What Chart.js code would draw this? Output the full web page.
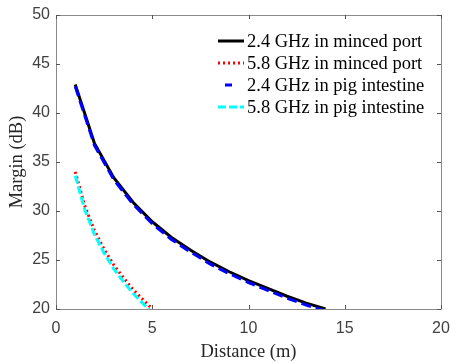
<!DOCTYPE html>
<html>
<head>
<meta charset="utf-8">
<script src="https://cdn.jsdelivr.net/npm/chart.js@4/dist/chart.umd.min.js"></script>
<style>
html,body{margin:0;padding:0;background:#fff;}
#wrap{width:450px;height:363px;position:relative;}
</style>
</head>
<body>
<div id="wrap"><canvas id="c" width="450" height="363"></canvas></div>
<script>
// ---- data ----
const labels = ["2.4 GHz in minced port", "5.8 GHz in minced port", "2.4 GHz in pig intestine", "5.8 GHz in pig intestine"];
const dist24 = [1, 2, 3, 4, 5, 6, 7, 8, 9, 10, 11, 12, 13, 14];
const minced24 = [42.9, 36.9, 33.4, 30.9, 28.9, 27.3, 26.0, 24.8, 23.8, 22.9, 22.1, 21.3, 20.6, 20.0];
const pig24 = [42.7, 36.7, 33.2, 30.7, 28.7, 27.1, 25.8, 24.6, 23.6, 22.7, 21.9, 21.1, 20.4, 19.8];
const dist58 = [1, 1.5, 2, 2.5, 3, 3.5, 4, 4.5, 5];
const minced58 = [34.0, 30.5, 28.0, 26.1, 24.5, 23.2, 22.0, 21.0, 20.0];
const pig58 = [33.6, 30.1, 27.6, 25.7, 24.1, 22.8, 21.6, 20.6, 19.6];
const xTicks = [0, 5, 10, 15, 20];
const yTicks = [20, 25, 30, 35, 40, 45, 50];

const pts = (xs, ys) => xs.map((x, i) => ({x: x, y: ys[i]}));

const styles = [
  {color: '#000000', dash: [], width: 3, order: 4},
  {color: '#ff0000', dash: [2, 3], width: 3, order: 3},
  {color: '#0000ff', dash: [10, 5], width: 3, order: 2},
  {color: '#00ffff', dash: [8, 3], width: 3, order: 1}
];
const series = [pts(dist24, minced24), pts(dist58, minced58), pts(dist24, pig24), pts(dist58, pig58)];

const datasets = series.map((d, i) => ({
  label: labels[i],
  data: d,
  borderColor: styles[i].color,
  backgroundColor: styles[i].color,
  borderWidth: styles[i].width,
  borderDash: styles[i].dash,
  pointRadius: 0,
  tension: 0,
  fill: false,
  order: styles[i].order
}));

const boxPlugin = {
  id: 'box',
  afterDatasetsDraw(chart) {
    const {ctx, chartArea: a, scales} = chart;
    ctx.save();
    ctx.strokeStyle = '#8a8a8a';
    ctx.lineWidth = 1;
    ctx.beginPath();
    ctx.rect(Math.round(a.left) + 0.5, Math.round(a.top) + 0.5, Math.round(a.right - a.left), Math.round(a.bottom - a.top));
    ctx.stroke();
    const tl = 4;
    ctx.strokeStyle = '#555';
    ctx.beginPath();
    xTicks.forEach(v => {
      const px = Math.round(scales.x.getPixelForValue(v)) + 0.5;
      ctx.moveTo(px, a.bottom); ctx.lineTo(px, a.bottom - tl);
      ctx.moveTo(px, a.top); ctx.lineTo(px, a.top + tl);
    });
    yTicks.forEach(v => {
      const py = Math.round(scales.y.getPixelForValue(v)) + 0.5;
      ctx.moveTo(a.left, py); ctx.lineTo(a.left + tl, py);
      ctx.moveTo(a.right, py); ctx.lineTo(a.right - tl, py);
    });
    ctx.stroke();
    // legend
    const x0 = 218, x1 = 244, tx = 247, y0 = 41, dy = 22;
    ctx.font = '18.5px "Liberation Serif", "Times New Roman", serif';
    ctx.textBaseline = 'middle';
    ctx.textAlign = 'left';
    chart.data.datasets.forEach((ds, i) => {
      const y = y0 + i * dy;
      ctx.strokeStyle = ds.borderColor;
      ctx.lineWidth = ds.borderWidth;
      ctx.setLineDash(ds.borderDash);
      ctx.beginPath();
      if (i === 2) { ctx.setLineDash([]); ctx.moveTo(225, y); ctx.lineTo(232, y); }
      else { ctx.moveTo(x0, y); ctx.lineTo(x1, y); }
      ctx.stroke();
      ctx.setLineDash([]);
      ctx.fillStyle = '#000';
      ctx.fillText(ds.label, tx, y + 1);
    });
    ctx.restore();
  }
};

new Chart(document.getElementById('c'), {
  type: 'line',
  data: {datasets: datasets},
  options: {
    responsive: false,
    animation: false,
    layout: {padding: {top: 15, right: 9, left: 0, bottom: 0}},
    plugins: {legend: {display: false}, tooltip: {enabled: false}},
    scales: {
      x: {
        type: 'linear', min: 0, max: 20,
        afterBuildTicks: s => { s.ticks = xTicks.map(v => ({value: v})); },
        afterFit: s => { s.height = 54; s.paddingRight = 0; s.paddingLeft = 0; },
        grid: {display: false, drawTicks: false},
        border: {display: false},
        ticks: {color: '#404040', font: {family: '"Liberation Sans", Arial, sans-serif', size: 16}, padding: 10, maxRotation: 0},
        title: {display: true, text: 'Distance (m)', color: '#262626', font: {family: '"Liberation Serif", "Times New Roman", serif', size: 18.5}, padding: {top: 0, bottom: 0}}
      },
      y: {
        type: 'linear', min: 20, max: 50,
        afterBuildTicks: s => { s.ticks = yTicks.map(v => ({value: v})); },
        afterFit: s => { s.width = 56; s.paddingTop = 0; s.paddingBottom = 0; },
        grid: {display: false, drawTicks: false},
        border: {display: false},
        ticks: {color: '#404040', font: {family: '"Liberation Sans", Arial, sans-serif', size: 16}, padding: 6},
        title: {display: true, text: 'Margin (dB)', color: '#262626', font: {family: '"Liberation Serif", "Times New Roman", serif', size: 18.5}, padding: {top: 6, bottom: 0}}
      }
    }
  },
  plugins: [boxPlugin]
});
</script>
</body>
</html>
